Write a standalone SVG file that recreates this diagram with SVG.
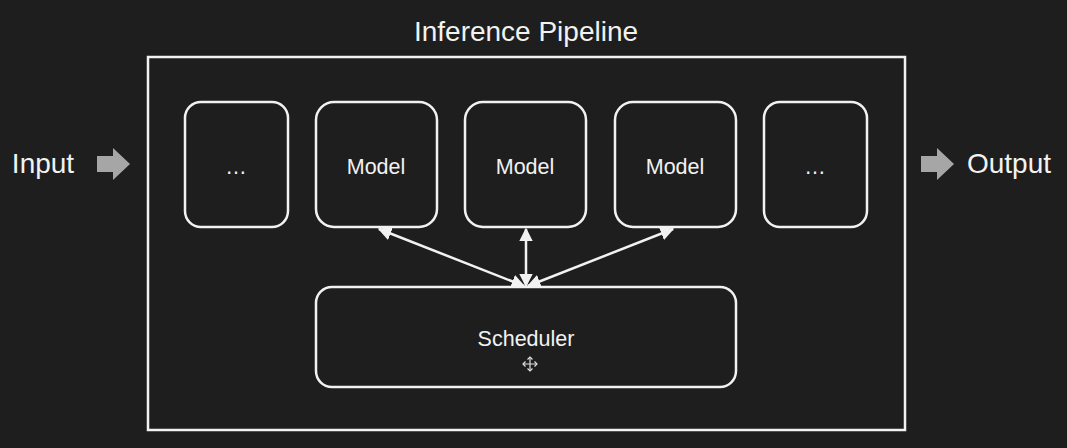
<svg xmlns="http://www.w3.org/2000/svg" width="1067" height="448" viewBox="0 0 1067 448">
<defs>
<style>
.box{fill:#1e1e1e;stroke:#f2f2f2;stroke-width:2.5}
.t{font-family:"Liberation Sans",Arial,sans-serif;fill:#f2f2f2;text-anchor:middle}
.big{font-size:28px}
.sm{font-size:21.5px}
.conn{stroke:#f2f2f2;stroke-width:2.5;fill:none;marker-start:url(#ah);marker-end:url(#ah)}
.ga{fill:#a6a6a6}
</style>
<marker id="ah" viewBox="0 0 10 10" refX="9" refY="5" markerWidth="5.5" markerHeight="5.5" orient="auto-start-reverse" markerUnits="strokeWidth">
<path d="M0,0 L10,5 L0,10 z" fill="#f2f2f2"/>
</marker>
</defs>
<rect width="1067" height="448" fill="#1e1e1e"/>
<g id="pipeline">
<rect class="box" x="148" y="57" width="757" height="373"/>
<text class="t big" x="526" y="41">Inference Pipeline</text>
</g>
<g id="input">
<text class="t big" x="43" y="173">Input</text>
<path class="ga" d="M97,156 H113 V148 L130,164 L113,180 V172 H97 Z"/>
</g>
<g id="output">
<path class="ga" d="M921,156 H937 V148 L954,164 L937,180 V172 H921 Z"/>
<text class="t big" x="1009" y="173">Output</text>
</g>
<g id="node-dots-left">
<rect class="box" x="185" y="102" width="103" height="125" rx="16"/>
<text class="t sm" x="236" y="174">…</text>
</g>
<g id="node-model-1">
<rect class="box" x="316" y="102" width="121" height="125" rx="18"/>
<text class="t sm" x="376" y="174">Model</text>
</g>
<g id="node-model-2">
<rect class="box" x="465" y="102" width="121" height="125" rx="18"/>
<text class="t sm" x="525" y="174">Model</text>
</g>
<g id="node-model-3">
<rect class="box" x="615" y="102" width="121" height="125" rx="18"/>
<text class="t sm" x="675" y="174">Model</text>
</g>
<g id="node-dots-right">
<rect class="box" x="764" y="102" width="103" height="125" rx="16"/>
<text class="t sm" x="815" y="174">…</text>
</g>
<g id="scheduler">
<rect class="box" x="316" y="287" width="420" height="100" rx="16"/>
<text class="t sm" x="526" y="346">Scheduler</text>
<g stroke="#e0e0e0" stroke-width="1.2" fill="none">
<path d="M530,357 V371 M523,364 H537"/>
<path d="M527.5,359.5 L530,357 L532.5,359.5 M527.5,368.5 L530,371 L532.5,368.5 M525.5,361.5 L523,364 L525.5,366.5 M534.5,361.5 L537,364 L534.5,366.5"/>
</g>
</g>
<g id="connectors">
<line class="conn" x1="524" y1="286" x2="379" y2="229"/>
<line class="conn" x1="526" y1="286" x2="526" y2="229"/>
<line class="conn" x1="528" y1="286" x2="673" y2="229"/>
</g>
</svg>
